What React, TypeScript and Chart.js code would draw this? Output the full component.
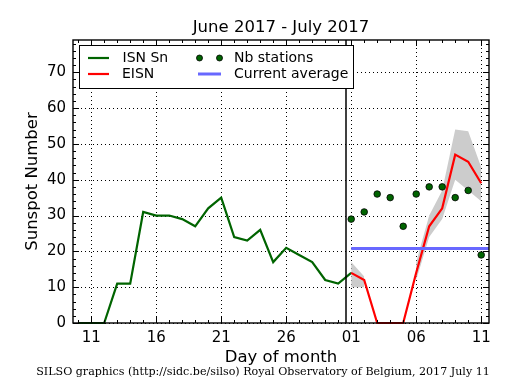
import { useEffect, useRef } from "react";
import { Chart, registerables } from "chart.js";

Chart.register(...registerables);

// Day index: June d -> d, July d -> 30 + d
const X_MIN = 9.6;
const X_MAX = 41.6;
const Y_MIN = 0;
const Y_MAX = 79;
const X_TICKS = [11, 16, 21, 26, 31, 36, 41];
const X_TICK_LABELS = ["11", "16", "21", "26", "01", "06", "11"];
const Y_TICKS = [0, 10, 20, 30, 40, 50, 60, 70];

const ISN_DAYS = [10, 11, 12, 13, 14, 15, 16, 17, 18, 19, 20, 21, 22, 23, 24, 25, 26, 27, 28, 29, 30, 31];
const ISN_VALUES = [0, 0, 0, 11, 11, 31, 30, 30, 29, 27, 32, 35, 24, 23, 26, 17, 21, 19, 17, 12, 11, 14];

const EISN_DAYS = [31, 32, 33, 34, 35, 36, 37, 38, 39, 40, 41];
const EISN_VALUES = [14, 12, 0, 0, 0, 14, 27, 32, 47, 45, 39];
const BAND_UPPER = [17, 13, null, null, null, 17, 30, 37, 54, 53.5, 43.5];
const BAND_LOWER = [10, 10, null, null, null, 12, 24, 29, 40, 37, 34];
const NB_STATIONS = [29, 31, 36, 35, 27, 36, 38, 38, 35, 37, 19];

const CURRENT_AVERAGE = 20.8;
const AVERAGE_SPAN = [31, 41.6];
const MONTH_BOUNDARY = 30.6;

const TITLE = "June 2017 - July 2017";
const X_LABEL = "Day of month";
const Y_LABEL = "Sunspot Number";
const FOOTER = "SILSO graphics (http://sidc.be/silso) Royal Observatory of Belgium, 2017 July 11";

const GREEN = "#006400";
const RED = "#ff0000";
const BLUE = "#6868ff";
const GREY = "#cccccc";
const SANS = "'DejaVu Sans', sans-serif";

const pts = (xs: number[], ys: (number | null)[]) => xs.map((x, i) => ({ x, y: ys[i] }));

const decor = {
  id: "decor",
  beforeDatasetsDraw(chart: any) {
    const { ctx, chartArea: a, scales } = chart;
    const x = scales.x;
    const y = scales.y;
    ctx.save();
    ctx.strokeStyle = "#000";
    ctx.lineWidth = 1;
    ctx.setLineDash([1, 3]);
    for (const v of X_TICKS) {
      const px = Math.round(x.getPixelForValue(v)) + 0.5;
      ctx.beginPath();
      ctx.moveTo(px, a.top);
      ctx.lineTo(px, a.bottom);
      ctx.stroke();
    }
    for (const v of Y_TICKS) {
      const py = Math.round(y.getPixelForValue(v)) + 0.5;
      ctx.beginPath();
      ctx.moveTo(a.left, py);
      ctx.lineTo(a.right, py);
      ctx.stroke();
    }
    ctx.restore();
  },
  afterDatasetsDraw(chart: any) {
    const { ctx, chartArea: a, scales } = chart;
    const x = scales.x;
    const y = scales.y;
    ctx.save();
    ctx.setLineDash([]);
    ctx.strokeStyle = "#000";
    ctx.lineWidth = 1;
    const tick = (px: number, len: number) => {
      const p = Math.round(px) + 0.5;
      ctx.beginPath();
      ctx.moveTo(p, a.bottom);
      ctx.lineTo(p, a.bottom - len);
      ctx.moveTo(p, a.top);
      ctx.lineTo(p, a.top + len);
      ctx.stroke();
    };
    for (let d = Math.ceil(X_MIN); d <= X_MAX; d++) {
      tick(x.getPixelForValue(d), X_TICKS.includes(d) ? 6 : 3);
    }
    const ytick = (py: number, len: number) => {
      const p = Math.round(py) + 0.5;
      ctx.beginPath();
      ctx.moveTo(a.left, p);
      ctx.lineTo(a.left + len, p);
      ctx.moveTo(a.right, p);
      ctx.lineTo(a.right - len, p);
      ctx.stroke();
    };
    for (let v = Y_MIN; v <= Y_MAX; v += 2) {
      ytick(y.getPixelForValue(v), v % 10 === 0 ? 6 : 3);
    }
    ctx.lineWidth = 1.4;
    ctx.strokeRect(a.left, a.top, a.right - a.left, a.bottom - a.top);

    // legend
    const lx = 79.5, ly = 45.5, lw = 274, lh = 43;
    ctx.fillStyle = "#fff";
    ctx.fillRect(lx, ly, lw, lh);
    ctx.lineWidth = 1;
    ctx.strokeStyle = "#000";
    ctx.strokeRect(lx, ly, lw, lh);
    const r1 = 58, r2 = 74;
    ctx.lineWidth = 2.2;
    ctx.strokeStyle = GREEN;
    ctx.beginPath(); ctx.moveTo(88, r1); ctx.lineTo(109, r1); ctx.stroke();
    ctx.strokeStyle = RED;
    ctx.beginPath(); ctx.moveTo(88, r2); ctx.lineTo(109, r2); ctx.stroke();
    ctx.strokeStyle = BLUE;
    ctx.lineWidth = 3;
    ctx.beginPath(); ctx.moveTo(198, r2); ctx.lineTo(221, r2); ctx.stroke();
    for (const cx of [199.5, 219.5]) {
      ctx.beginPath();
      ctx.arc(cx, r1, 3, 0, Math.PI * 2);
      ctx.fillStyle = GREEN;
      ctx.fill();
      ctx.lineWidth = 0.8;
      ctx.strokeStyle = "#000";
      ctx.stroke();
    }
    ctx.fillStyle = "#000";
    ctx.font = `14px ${SANS}`;
    ctx.textBaseline = "middle";
    ctx.textAlign = "left";
    ctx.fillText("ISN Sn", 122.5, r1);
    ctx.fillText("EISN", 122, r2);
    ctx.fillText("Nb stations", 234, r1);
    ctx.fillText("Current average", 234, r2);
    ctx.restore();
  },
  afterDraw(chart: any) {
    const { ctx, chartArea: a } = chart;
    const cx = (a.left + a.right) / 2;
    ctx.save();
    ctx.fillStyle = "#000";
    ctx.textBaseline = "alphabetic";
    ctx.textAlign = "center";
    ctx.font = `16.5px ${SANS}`;
    ctx.fillText(TITLE, cx, 32);
    ctx.fillText(X_LABEL, cx, 362);
    ctx.save();
    ctx.translate(37, (a.top + a.bottom) / 2);
    ctx.rotate(-Math.PI / 2);
    ctx.fillText(Y_LABEL, 0, 0);
    ctx.restore();
    ctx.font = `11.1px 'DejaVu Serif', serif`;
    ctx.fillText(FOOTER, 263, 375);
    ctx.restore();
  },
};

export default function App() {
  const ref = useRef<HTMLCanvasElement | null>(null);
  useEffect(() => {
    document.body.style.margin = "0";
    if (!ref.current) return;
    const chart = new Chart(ref.current, {
      type: "line",
      data: {
        datasets: [
          {
            label: "Nb stations",
            data: pts(EISN_DAYS, NB_STATIONS),
            showLine: false,
            pointRadius: 3.3,
            pointBackgroundColor: GREEN,
            pointBorderColor: "#000",
            pointBorderWidth: 0.8,
            order: 0,
          },
          {
            label: "boundary",
            data: [{ x: MONTH_BOUNDARY, y: Y_MIN }, { x: MONTH_BOUNDARY, y: Y_MAX }],
            borderColor: "#000",
            borderWidth: 1.5,
            pointRadius: 0,
            order: 1,
          },
          {
            label: "Current average",
            data: AVERAGE_SPAN.map((x) => ({ x, y: CURRENT_AVERAGE })),
            borderColor: BLUE,
            borderWidth: 3,
            pointRadius: 0,
            order: 2,
          },
          {
            label: "EISN",
            data: pts(EISN_DAYS, EISN_VALUES),
            borderColor: RED,
            borderWidth: 2.2,
            pointRadius: 0,
            tension: 0,
            clip: 3,
            order: 3,
          },
          {
            label: "ISN Sn",
            data: pts(ISN_DAYS, ISN_VALUES),
            borderColor: GREEN,
            borderWidth: 2.2,
            pointRadius: 0,
            tension: 0,
            clip: 3,
            order: 4,
          },
          {
            label: "upper",
            data: pts(EISN_DAYS, BAND_UPPER),
            borderWidth: 0,
            borderColor: "rgba(0,0,0,0)",
            backgroundColor: GREY,
            pointRadius: 0,
            fill: 6,
            spanGaps: false,
            order: 5,
          },
          {
            label: "lower",
            data: pts(EISN_DAYS, BAND_LOWER),
            borderWidth: 0,
            borderColor: "rgba(0,0,0,0)",
            pointRadius: 0,
            fill: false,
            spanGaps: false,
            order: 6,
          },
        ] as any,
      },
      options: {
        animation: false,
        responsive: false,
        devicePixelRatio: 1,
        layout: { padding: { left: 0, top: 40, right: 26, bottom: 0 } },
        plugins: { legend: { display: false }, title: { display: false }, tooltip: { enabled: false } },
        scales: {
          x: {
            type: "linear",
            min: X_MIN,
            max: X_MAX,
            grid: { display: false, drawTicks: false },
            border: { display: false },
            afterBuildTicks: (s: any) => {
              s.ticks = X_TICKS.map((value) => ({ value }));
            },
            afterFit: (s: any) => {
              s.height = 67;
            },
            ticks: {
              autoSkip: false,
              maxRotation: 0,
              padding: 6,
              color: "#000",
              font: { family: SANS, size: 15 },
              callback: (v: any) => X_TICK_LABELS[X_TICKS.indexOf(Number(v))] ?? "",
            },
          },
          y: {
            type: "linear",
            min: Y_MIN,
            max: Y_MAX,
            grid: { display: false, drawTicks: false },
            border: { display: false },
            afterBuildTicks: (s: any) => {
              s.ticks = Y_TICKS.map((value) => ({ value }));
            },
            afterFit: (s: any) => {
              s.width = 73;
            },
            ticks: {
              padding: 7,
              color: "#000",
              font: { family: SANS, size: 15 },
            },
          },
        },
      },
      plugins: [decor],
    });
    return () => chart.destroy();
  }, []);
  return (
    <div style={{ position: "absolute", left: 0, top: 0, width: 515, height: 390, background: "#fff" }}>
      <canvas ref={ref} width={515} height={390} />
    </div>
  );
}
